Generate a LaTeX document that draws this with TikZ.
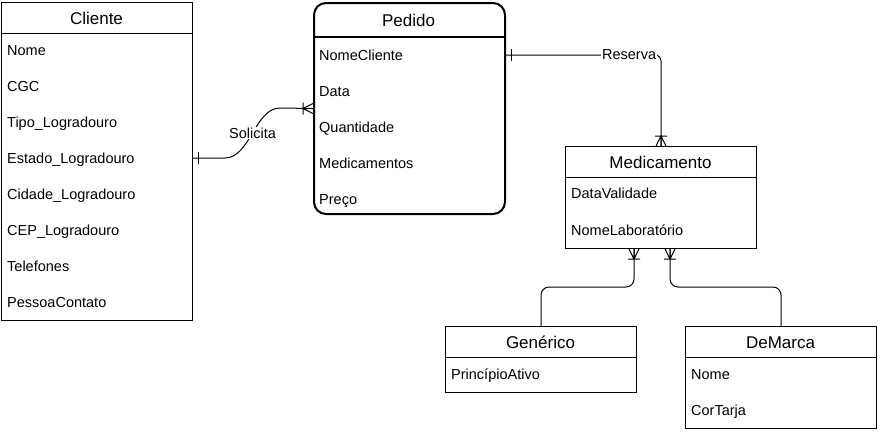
\documentclass[tikz,border=0pt]{standalone}
\usepackage{fontspec}
\setmainfont{Liberation Sans}
\begin{document}
\begin{tikzpicture}[x=1pt,y=1pt,
    entity/.style={draw,line width=1pt,anchor=north west,inner sep=0pt,minimum width=191pt},
    title/.style={font=\fontsize{17}{19}\selectfont,text height=15pt,text depth=3pt,inner sep=0pt},
    attr/.style={anchor=west,inner sep=0pt,text height=13.4pt,text depth=3pt,font=\fontsize{14.5}{16}\selectfont},
    rel/.style={line width=1pt},
    lbl/.style={fill=white,inner sep=1pt,font=\fontsize{14.5}{16}\selectfont},
    crowfoot/.pic={\draw[line width=1pt] (0,5) -- (-10,0) -- (0,-5) (0,0) -- (-10,0) (-10,-6) -- (-10,6);},
    onebar/.pic={\draw[line width=1pt] (-5,-6) -- (-5,6);}]
    \useasboundingbox (0,0) rectangle (878,-432);

    % Cliente
    \node[entity,minimum height=318pt] (cli) at (1,-2) {};
    \draw[line width=1pt] (cli.west |- 0,-33) -- (cli.east |- 0,-33);
    \node[title] (clititle) at (96.5,-18) {Cliente};
    \node[attr] (nome) at (7,-50) {Nome};
    \node[attr] (cgc) at (7,-86) {CGC};
    \node[attr] (tipo) at (7,-122) {Tipo\_Logradouro};
    \node[attr] (estado) at (7,-158) {Estado\_Logradouro};
    \node[attr] (cidade) at (7,-194) {Cidade\_Logradouro};
    \node[attr] (cep) at (7,-230) {CEP\_Logradouro};
    \node[attr] (fones) at (7,-266) {Telefones};
    \node[attr] (contato) at (7,-302) {PessoaContato};

    % Pedido
    \node[entity,line width=2pt,rounded corners=12pt,minimum height=211pt] (ped) at (313,-2) {};
    \draw[line width=2pt] (ped.west |- 0,-37) -- (ped.east |- 0,-37);
    \node[title] (pedtitle) at (408.5,-20) {Pedido};
    \node[attr] (nomecli) at (319,-55) {NomeCliente};
    \node[attr] (data) at (319,-91) {Data};
    \node[attr] (qtd) at (319,-127) {Quantidade};
    \node[attr] (meds) at (319,-163) {Medicamentos};
    \node[attr] (preco) at (319,-199) {Preço};

    % Medicamento
    \node[entity,minimum height=102pt] (med) at (565,-146) {};
    \draw[line width=1pt] (med.west |- 0,-177) -- (med.east |- 0,-177);
    \node[title] (medtitle) at (660.5,-162) {Medicamento};
    \node[attr] (validade) at (571,-193) {DataValidade};
    \node[attr] (lab) at (571,-230) {NomeLaboratório};

    % Generico e DeMarca
    \node[entity,minimum height=66pt] (gen) at (445,-326) {};
    \draw[line width=1pt] (gen.west |- 0,-357) -- (gen.east |- 0,-357);
    \node[title] (gentitle) at (540.5,-342) {Genérico};
    \node[attr] (principio) at (451,-374) {PrincípioAtivo};

    \node[entity,minimum height=102pt] (dm) at (685,-326) {};
    \draw[line width=1pt] (dm.west |- 0,-357) -- (dm.east |- 0,-357);
    \node[title] (dmtitle) at (780.5,-342) {DeMarca};
    \node[attr] (dmnome) at (691,-374) {Nome};
    \node[attr] (tarja) at (691,-410) {CorTarja};

    % relacionamentos
    \draw[rel] (cli.east |- estado) -- ++(32,0) .. controls +(25,0) and +(-25,0) .. ++(55,50) node[lbl,pos=0.5] {Solicita} -- (ped.west);
    \pic at (cli.east |- estado) [rotate=180] {onebar};
    \pic at (ped.west) {crowfoot};

    \draw[rel,rounded corners=6pt] (ped.east |- nomecli) -| (med.north) node[lbl,pos=0.397] {Reserva};
    \pic at (ped.east |- nomecli) [rotate=180] {onebar};
    \pic at (med.north) [rotate=-90] {crowfoot};

    \draw[rel,rounded corners=8pt] (gen.north) -- ++(0,39) -| ([xshift=-27pt]med.south);
    \draw[rel,rounded corners=8pt] (dm.north) -- ++(0,39) -| ([xshift=9pt]med.south);
    \pic at ([xshift=-27pt]med.south) [rotate=90] {crowfoot};
    \pic at ([xshift=9pt]med.south) [rotate=90] {crowfoot};
\end{tikzpicture}
\end{document}
